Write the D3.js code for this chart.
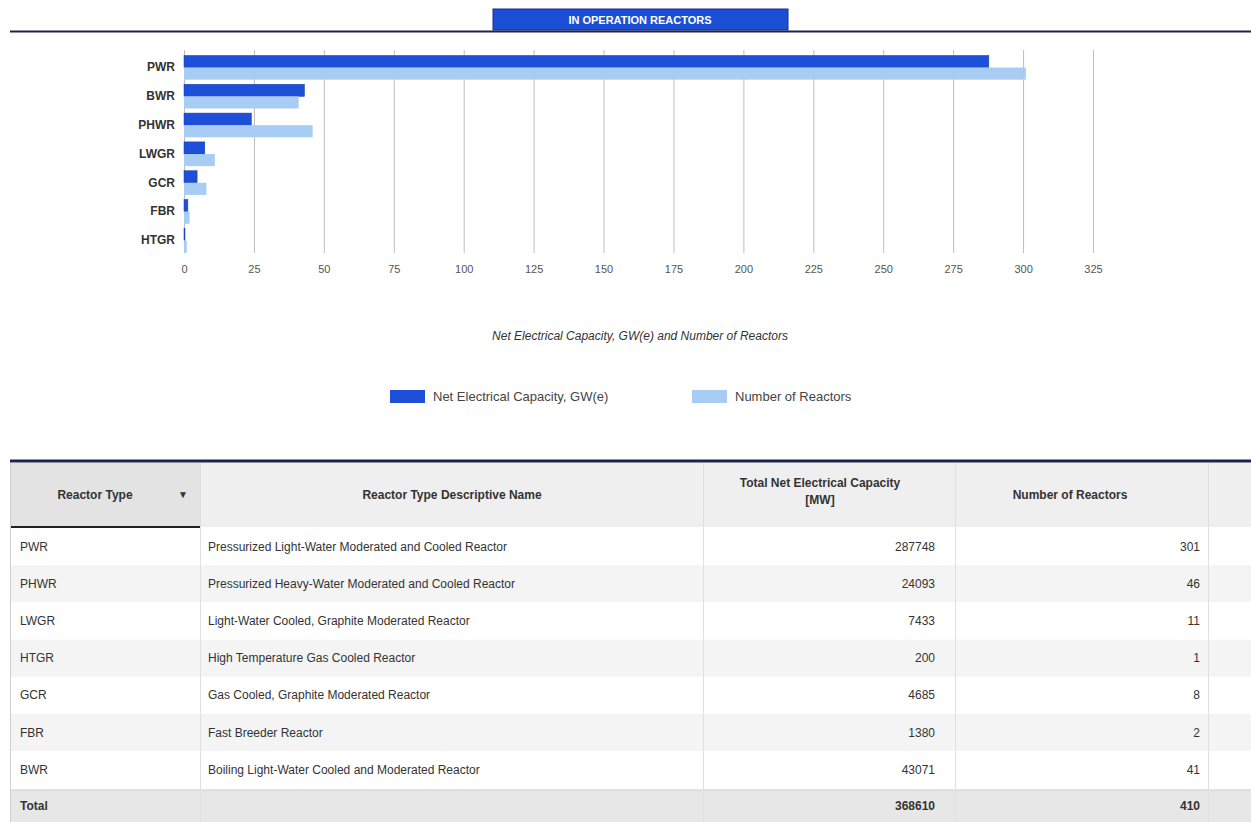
<!DOCTYPE html>
<meta charset="utf-8">
<style>
body { margin: 0; background: #fff; font-family: "Liberation Sans", Arial, sans-serif; }
.tick text { font-size: 11px; fill: #555; }
.cat text { font-size: 12px; font-weight: bold; fill: #333; }
.cell { font-size: 12px; fill: #333; }
.head { font-size: 12px; font-weight: bold; fill: #333; }
</style>
<body></body>
<script src="https://cdn.jsdelivr.net/npm/d3@7"></script>
<script>
// table rows, in the order the table lists them
var types = ["PWR", "PHWR", "LWGR", "HTGR", "GCR", "FBR", "BWR"];
var descNames = [
  "Pressurized Light-Water Moderated and Cooled Reactor",
  "Pressurized Heavy-Water Moderated and Cooled Reactor",
  "Light-Water Cooled, Graphite Moderated Reactor",
  "High Temperature Gas Cooled Reactor",
  "Gas Cooled, Graphite Moderated Reactor",
  "Fast Breeder Reactor",
  "Boiling Light-Water Cooled and Moderated Reactor"
];
var capacityMW = [287748, 24093, 7433, 200, 4685, 1380, 43071];
var reactorCount = [301, 46, 11, 1, 8, 2, 41];
var xTicks = [0, 25, 50, 75, 100, 125, 150, 175, 200, 225, 250, 275, 300, 325];
var seriesNames = ["Net Electrical Capacity, GW(e)", "Number of Reactors"];

var W = 1251, H = 822;
var dark = "#1d4fd8", light = "#a8cdf4";

var svg = d3.select("body").append("svg")
  .attr("width", W).attr("height", H);

// title tab
svg.append("rect").attr("x", 493).attr("y", 9).attr("width", 295).attr("height", 21)
  .attr("fill", "#1b4fd6").attr("stroke", "#17308a").attr("stroke-width", 1);
svg.append("text").attr("x", 640).attr("y", 24).attr("text-anchor", "middle")
  .attr("fill", "#fff").style("font-size", "11px").style("font-weight", "bold")
  .text("IN OPERATION REACTORS");
svg.append("line").attr("x1", 10).attr("x2", W).attr("y1", 31.5).attr("y2", 31.5)
  .attr("stroke", "#1c2250").attr("stroke-width", 2);

// chart
var rows = types.map(function(t, i) {
  return { type: t, gw: capacityMW[i] / 1000, n: reactorCount[i] };
}).sort(function(a, b) { return b.gw - a.gw; });

var x = d3.scaleLinear().domain([0, 325]).range([184, 1093]);
var y = d3.scaleBand().domain(rows.map(function(d) { return d.type; }))
  .range([54, 254]).paddingInner(0.16).paddingOuter(0.05);
var sub = d3.scaleBand().domain(["gw", "n"]).range([0, y.bandwidth()]).paddingInner(0);

var xAxis = d3.axisBottom(x).tickValues(xTicks).tickSize(-(253 - 50)).tickPadding(14);
var gx = svg.append("g").attr("transform", "translate(0,253)").call(xAxis);
gx.select(".domain").remove();
gx.selectAll(".tick line").attr("stroke", "#bdbdbd");
gx.selectAll(".tick text").attr("dy", "0.55em");

var gy = svg.append("g").attr("class", "cat").attr("transform", "translate(184,0)")
  .call(d3.axisLeft(y).tickSize(0).tickPadding(9));
gy.select(".domain").remove();

var grp = svg.selectAll("g.bar").data(rows).enter().append("g")
  .attr("class", "bar")
  .attr("transform", function(d) { return "translate(0," + y(d.type) + ")"; });
grp.append("rect")
  .attr("x", x(0)).attr("y", sub("gw"))
  .attr("width", function(d) { return Math.max(1, x(d.gw) - x(0)); })
  .attr("height", sub.bandwidth())
  .attr("fill", dark).attr("stroke", "#1a3fa8").attr("stroke-width", 0.5);
grp.append("rect")
  .attr("x", x(0)).attr("y", sub("n"))
  .attr("width", function(d) { return Math.max(1, x(d.n) - x(0)); })
  .attr("height", sub.bandwidth())
  .attr("fill", light);

svg.append("text").attr("x", 640).attr("y", 340).attr("text-anchor", "middle")
  .style("font-size", "12px").style("font-style", "italic").attr("fill", "#333")
  .text("Net Electrical Capacity, GW(e) and Number of Reactors");

// legend
var legX = [390, 692];
seriesNames.forEach(function(s, i) {
  svg.append("rect").attr("x", legX[i]).attr("y", 390).attr("width", 35).attr("height", 13)
    .attr("fill", i ? light : dark);
  svg.append("text").attr("x", legX[i] + 43).attr("y", 401)
    .style("font-size", "13px").attr("fill", "#444").text(s);
});

// table
var colX = [10, 200, 703, 955, 1208, W];
var headTop = 463, headBot = 527, rowH = 37.2, totalTop = 790;

svg.append("rect").attr("x", 10).attr("y", headTop).attr("width", W - 10).attr("height", headBot - headTop)
  .attr("fill", "#efefef");
svg.append("rect").attr("x", 10).attr("y", headTop).attr("width", 190).attr("height", headBot - headTop)
  .attr("fill", "#e3e3e3");
svg.append("line").attr("x1", 10).attr("x2", 200).attr("y1", headBot).attr("y2", headBot)
  .attr("stroke", "#222").attr("stroke-width", 2);

var tb = svg.append("g");
types.forEach(function(t, i) {
  var top = headBot + 1 + i * rowH;
  tb.append("rect").attr("x", 10).attr("y", top).attr("width", W - 10).attr("height", rowH)
    .attr("fill", i % 2 ? "#f4f4f4" : "#fff");
  var cy = top + rowH / 2 + 4;
  tb.append("text").attr("class", "cell").attr("x", 20).attr("y", cy).text(t);
  tb.append("text").attr("class", "cell").attr("x", 208).attr("y", cy).text(descNames[i]);
  tb.append("text").attr("class", "cell").attr("x", 935).attr("y", cy)
    .attr("text-anchor", "end").text(capacityMW[i]);
  tb.append("text").attr("class", "cell").attr("x", 1200).attr("y", cy)
    .attr("text-anchor", "end").text(reactorCount[i]);
});

svg.append("rect").attr("x", 10).attr("y", totalTop).attr("width", W - 10).attr("height", H - totalTop)
  .attr("fill", "#e7e7e7");
svg.append("line").attr("x1", 10).attr("x2", W).attr("y1", totalTop).attr("y2", totalTop)
  .attr("stroke", "#cfcfcf");
svg.append("text").attr("class", "head").attr("x", 20).attr("y", 810).text("Total");
svg.append("text").attr("class", "head").attr("x", 935).attr("y", 810).attr("text-anchor", "end")
  .text(d3.sum(capacityMW));
svg.append("text").attr("class", "head").attr("x", 1200).attr("y", 810).attr("text-anchor", "end")
  .text(d3.sum(reactorCount));

// column separators
colX.slice(0, 5).forEach(function(cx, i) {
  svg.append("line").attr("x1", cx + 0.5).attr("x2", cx + 0.5).attr("y1", headTop).attr("y2", H)
    .attr("stroke", i === 0 ? "#cfcfcf" : "#e0e0e0");
});

// header labels
svg.append("text").attr("class", "head").attr("x", 95).attr("y", 499).attr("text-anchor", "middle").text("Reactor Type");
svg.append("text").attr("class", "head").attr("x", 183).attr("y", 498).attr("text-anchor", "middle")
  .style("font-size", "10px").text("\u25BC");
svg.append("text").attr("class", "head").attr("x", 452).attr("y", 499).attr("text-anchor", "middle").text("Reactor Type Descriptive Name");
svg.append("text").attr("class", "head").attr("x", 820).attr("y", 487).attr("text-anchor", "middle").text("Total Net Electrical Capacity");
svg.append("text").attr("class", "head").attr("x", 820).attr("y", 504).attr("text-anchor", "middle").text("[MW]");
svg.append("text").attr("class", "head").attr("x", 1070).attr("y", 499).attr("text-anchor", "middle").text("Number of Reactors");

svg.append("line").attr("x1", 10).attr("x2", W).attr("y1", 461).attr("y2", 461)
  .attr("stroke", "#1c2250").attr("stroke-width", 3);
</script>
